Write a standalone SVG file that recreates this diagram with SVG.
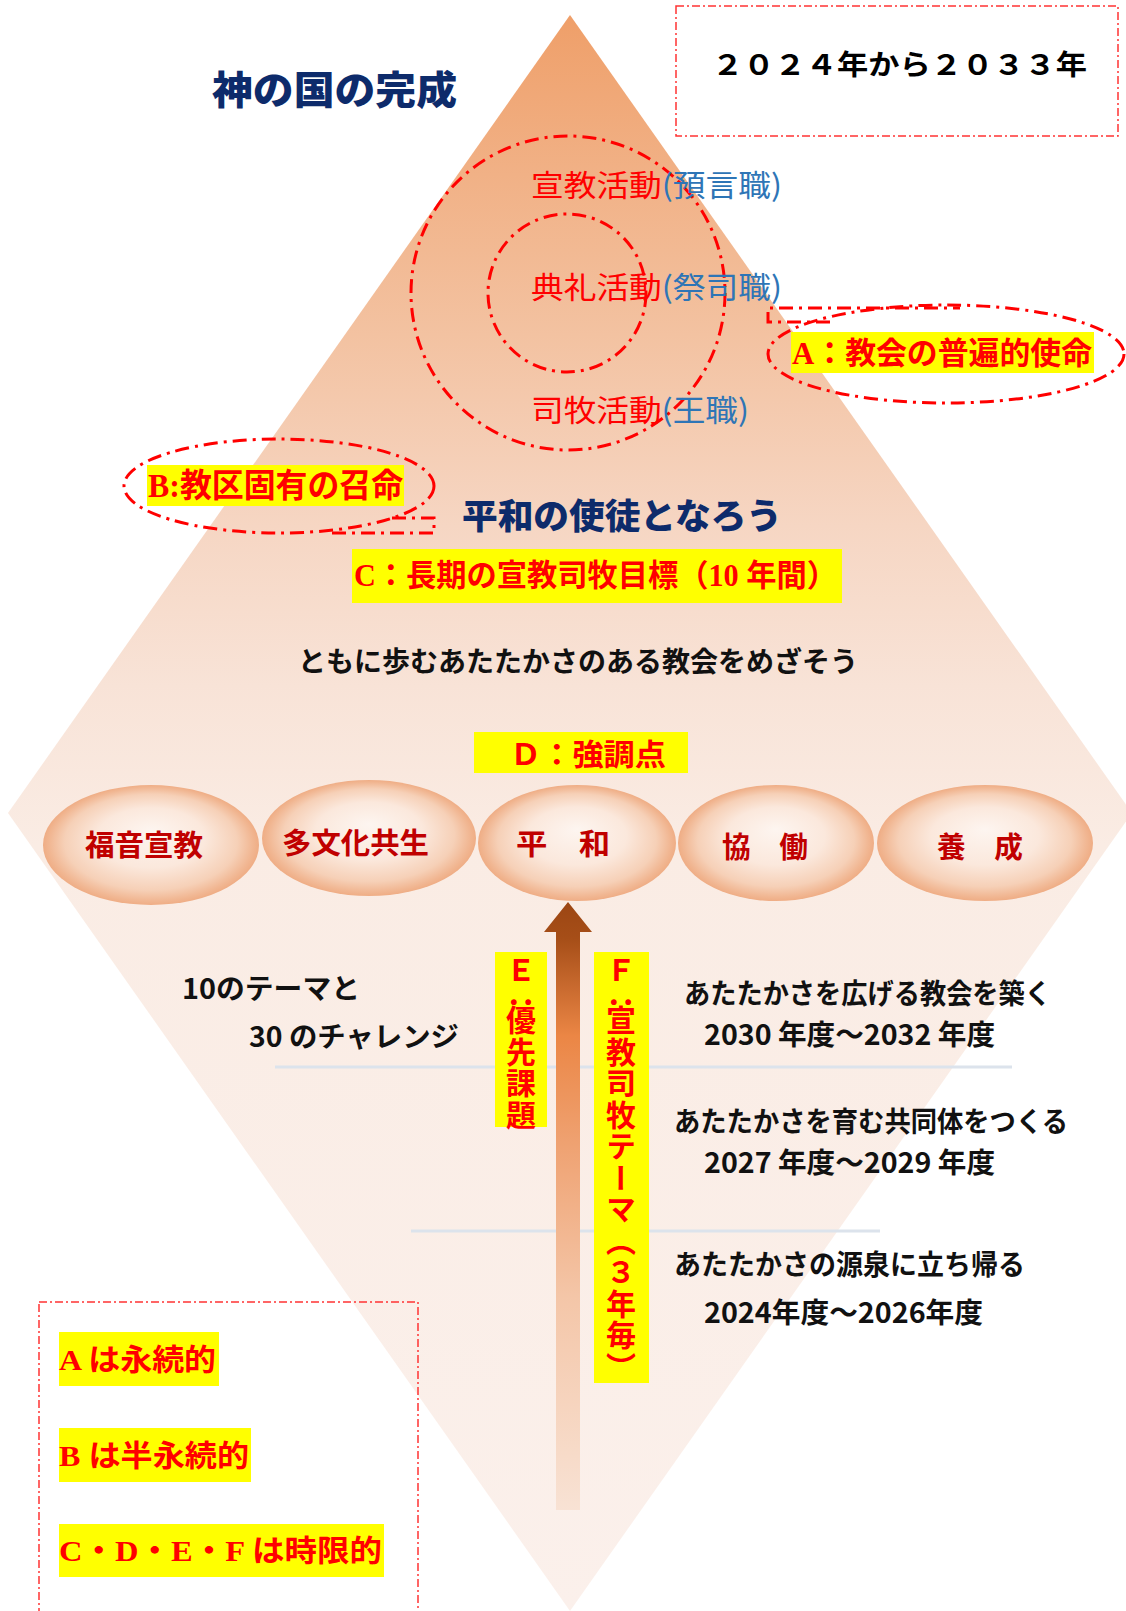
<svg xmlns="http://www.w3.org/2000/svg" width="1126" height="1611" viewBox="0 0 1126 1611">
<defs>
  <linearGradient id="gDiamond" x1="0" y1="15" x2="0" y2="1611" gradientUnits="userSpaceOnUse">
    <stop offset="0" stop-color="#EF9F69"/>
    <stop offset="0.1" stop-color="#F1B186"/>
    <stop offset="0.2" stop-color="#F3C2A1"/>
    <stop offset="0.32" stop-color="#F6D6C3"/>
    <stop offset="0.42" stop-color="#F8E3D7"/>
    <stop offset="0.52" stop-color="#FAECE4"/>
    <stop offset="1" stop-color="#FBF0EB"/>
  </linearGradient>
  <radialGradient id="gSphere" cx="50%" cy="50%" r="50%" fx="50%" fy="38%">
    <stop offset="0" stop-color="#FDF5F0"/>
    <stop offset="0.5" stop-color="#FBE8DC"/>
    <stop offset="0.8" stop-color="#F6D0B7"/>
    <stop offset="0.94" stop-color="#F1B793"/>
    <stop offset="1" stop-color="#EFAD85"/>
  </radialGradient>
  <linearGradient id="gArrow" x1="0" y1="902" x2="0" y2="1510" gradientUnits="userSpaceOnUse">
    <stop offset="0" stop-color="#9C4613"/>
    <stop offset="0.06" stop-color="#A64E18"/>
    <stop offset="0.22" stop-color="#EB8645"/>
    <stop offset="0.4" stop-color="#EFA272"/>
    <stop offset="0.65" stop-color="#F4C6A8"/>
    <stop offset="1" stop-color="#F8E2D4"/>
  </linearGradient>
</defs>
<style>
  .dd { fill: none; stroke: #FF0000; stroke-width: 3; stroke-dasharray: 14 6 3 6; }
  .ddr { fill: none; stroke: #FF3333; stroke-width: 1.5; stroke-dasharray: 8 3 2 3; }
  .hl { fill: #FFFF00; }
  .redlbl { fill: #FF0000; font-family: "Liberation Serif", "Noto Sans CJK JP", serif; font-weight: bold; }
  .vlbl { fill: #FF0000; font-family: "Noto Sans CJK JP", sans-serif; font-weight: bold; font-size: 30px; writing-mode: vertical-rl; letter-spacing: 1.5px; }
  .navy { fill: #0D2B6B; font-family: "Noto Sans CJK JP", sans-serif; font-weight: 900; }
  .black { fill: #111111; font-family: "Noto Sans CJK JP", sans-serif; font-weight: bold; font-size: 28px; }
  .sph { fill: #C00000; font-family: "Noto Sans CJK JP", sans-serif; font-weight: bold; font-size: 29px; }
  .act { font-family: "Noto Sans CJK JP", sans-serif; font-size: 30px; }
  .actR { fill: #FF0000; }
  .actB { fill: #2E75B6; }
  .sphere { fill: url(#gSphere); }
  .sep { stroke: #DCE3EC; stroke-width: 3; }
</style>

<g id="background">
  <polygon points="570,15 1132,813 570,1611 8,813" fill="url(#gDiamond)"/>
</g>

<g id="title">
  <text class="navy" x="212" y="104" font-size="39" textLength="245" lengthAdjust="spacingAndGlyphs">神の国の完成</text>
</g>

<g id="period">
  <rect class="ddr" x="676" y="6" width="442" height="130"/>
  <text x="712" y="75" font-family="Noto Sans CJK JP, sans-serif" font-weight="bold" font-size="28" fill="#000" textLength="375" lengthAdjust="spacingAndGlyphs">２０２４年から２０３３年</text>
</g>

<g id="circles">
  <circle class="dd" cx="568" cy="293" r="157"/>
  <circle class="dd" cx="567" cy="293" r="79"/>
  <text class="act" x="531" y="196" textLength="251" lengthAdjust="spacingAndGlyphs"><tspan class="actR">宣教活動</tspan><tspan class="actB">(預言職)</tspan></text>
  <text class="act" x="531" y="298" textLength="251" lengthAdjust="spacingAndGlyphs"><tspan class="actR">典礼活動</tspan><tspan class="actB">(祭司職)</tspan></text>
  <text class="act" x="531" y="421" textLength="218" lengthAdjust="spacingAndGlyphs"><tspan class="actR">司牧活動</tspan><tspan class="actB">(王職)</tspan></text>
</g>

<g id="labelA">
  <ellipse class="dd" cx="946" cy="354" rx="178" ry="49"/>
  <path class="dd" d="M830,322 H768 V308 H960"/>
  <rect class="hl" x="791" y="332" width="303" height="41"/>
  <text class="redlbl" x="792" y="364" font-size="31" textLength="300" lengthAdjust="spacingAndGlyphs">A：教会の普遍的使命</text>
</g>

<g id="labelB">
  <ellipse class="dd" cx="279" cy="486" rx="155" ry="47"/>
  <path class="dd" d="M392,518 H434 V533 H330"/>
  <rect class="hl" x="147" y="465" width="257" height="41"/>
  <text class="redlbl" x="148" y="497" font-size="33" textLength="255" lengthAdjust="spacingAndGlyphs">B:教区固有の召命</text>
</g>

<g id="motto">
  <text class="navy" x="462" y="529" font-size="35" textLength="320" lengthAdjust="spacingAndGlyphs">平和の使徒となろう</text>
</g>

<g id="labelC">
  <rect class="hl" x="352" y="549" width="490" height="54"/>
  <text class="redlbl" x="354" y="586" font-size="31" textLength="483" lengthAdjust="spacingAndGlyphs">C：長期の宣教司牧目標（10 年間）</text>
</g>

<g id="goal">
  <text class="black" x="298" y="672" font-size="30" textLength="560" lengthAdjust="spacingAndGlyphs">ともに歩むあたたかさのある教会をめざそう</text>
</g>

<g id="labelD">
  <rect class="hl" x="474" y="732" width="214" height="41"/>
  <text class="redlbl" x="510" y="765" font-size="30" textLength="156" lengthAdjust="spacingAndGlyphs">Ｄ：強調点</text>
</g>

<g id="sphere1">
  <ellipse class="sphere" cx="151" cy="845" rx="108" ry="60"/>
  <text class="sph" x="85" y="856" textLength="118" lengthAdjust="spacingAndGlyphs">福音宣教</text>
</g>
<g id="sphere2">
  <ellipse class="sphere" cx="369" cy="838" rx="107" ry="58"/>
  <text class="sph" x="282" y="854" textLength="147" lengthAdjust="spacingAndGlyphs">多文化共生</text>
</g>
<g id="sphere3">
  <ellipse class="sphere" cx="577" cy="843" rx="99" ry="58"/>
  <text class="sph" x="516" y="855" textLength="94" lengthAdjust="spacingAndGlyphs">平　和</text>
</g>
<g id="sphere4">
  <ellipse class="sphere" cx="776" cy="843" rx="98" ry="58"/>
  <text class="sph" x="722" y="858" textLength="86" lengthAdjust="spacingAndGlyphs">協　働</text>
</g>
<g id="sphere5">
  <ellipse class="sphere" cx="985" cy="843" rx="108" ry="58"/>
  <text class="sph" x="937" y="858" textLength="86" lengthAdjust="spacingAndGlyphs">養　成</text>
</g>

<g id="connectors">
  <line class="sep" x1="275" y1="1067" x2="1012" y2="1067"/>
  <line class="sep" x1="411" y1="1231" x2="880" y2="1231"/>
  <path d="M556,1510 V932 H544 L568,902 L592,932 H580 V1510 Z" fill="url(#gArrow)"/>
</g>

<g id="themes">
  <text class="black" x="182" y="999" textLength="178" lengthAdjust="spacingAndGlyphs">10のテーマと</text>
  <text class="black" x="249" y="1047" textLength="210" lengthAdjust="spacingAndGlyphs">30 のチャレンジ</text>
</g>

<g id="labelE">
  <rect class="hl" x="495" y="952" width="52" height="175"/>
  <text class="vlbl" x="521" y="955">Ｅ：<tspan dy="-13">優先課題</tspan></text>
</g>

<g id="labelF">
  <rect class="hl" x="594" y="952" width="55" height="431"/>
  <text class="vlbl" x="621" y="955">Ｆ：<tspan dy="-13">宣教司牧テーマ（３年毎）</tspan></text>
</g>

<g id="phase3">
  <text class="black" x="684" y="1004" textLength="367" lengthAdjust="spacingAndGlyphs">あたたかさを広げる教会を築く</text>
  <text class="black" x="704" y="1045" textLength="291" lengthAdjust="spacingAndGlyphs">2030 年度～2032 年度</text>
</g>
<g id="phase2">
  <text class="black" x="674" y="1132" textLength="394" lengthAdjust="spacingAndGlyphs">あたたかさを育む共同体をつくる</text>
  <text class="black" x="704" y="1173" textLength="291" lengthAdjust="spacingAndGlyphs">2027 年度～2029 年度</text>
</g>
<g id="phase1">
  <text class="black" x="674" y="1275" textLength="351" lengthAdjust="spacingAndGlyphs">あたたかさの源泉に立ち帰る</text>
  <text class="black" x="704" y="1323" textLength="279" lengthAdjust="spacingAndGlyphs">2024年度～2026年度</text>
</g>

<g id="legend">
  <rect class="ddr" x="39" y="1302" width="379" height="330"/>
  <rect class="hl" x="59" y="1332" width="160" height="54"/>
  <text class="redlbl" x="59" y="1370" font-size="30" textLength="157" lengthAdjust="spacingAndGlyphs">A は永続的</text>
  <rect class="hl" x="59" y="1428" width="192" height="54"/>
  <text class="redlbl" x="59" y="1466" font-size="30" textLength="190" lengthAdjust="spacingAndGlyphs">B は半永続的</text>
  <rect class="hl" x="59" y="1524" width="325" height="53"/>
  <text class="redlbl" x="59" y="1561" font-size="30" textLength="323" lengthAdjust="spacingAndGlyphs">C・D・E・F は時限的</text>
</g>
</svg>
